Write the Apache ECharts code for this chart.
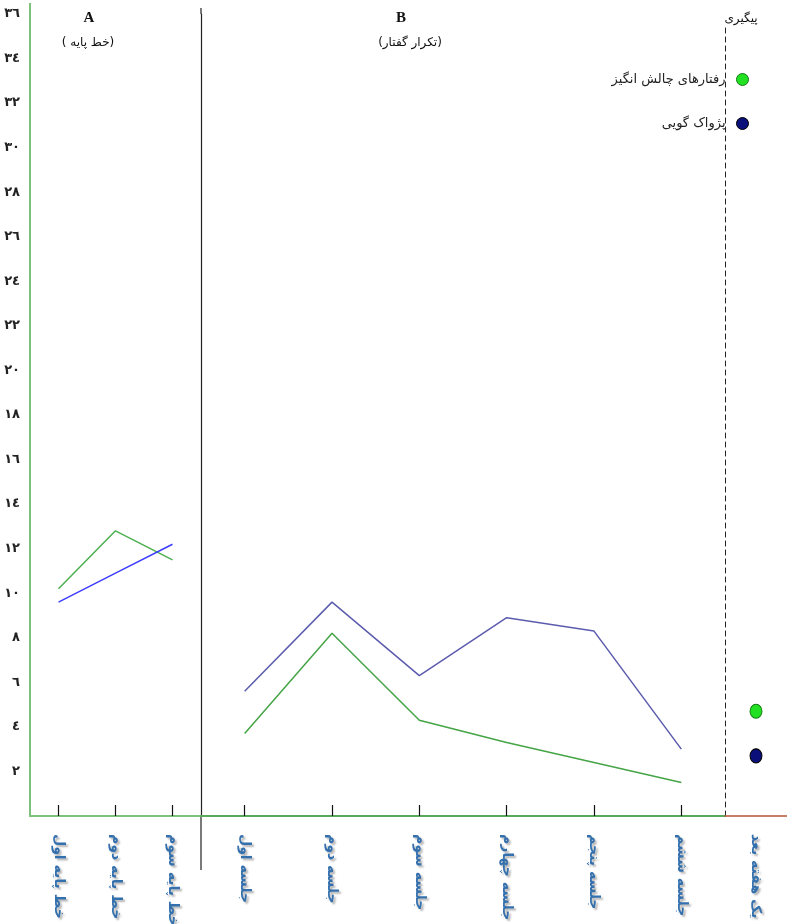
<!DOCTYPE html>
<html>
<head>
<meta charset="utf-8">
<script src="https://cdn.jsdelivr.net/npm/echarts@6/dist/echarts.min.js"></script>
<style>html,body{margin:0;padding:0;background:#fff}#c{width:787px;height:924px}</style>
</head>
<body>
<div id="c" dir="rtl"></div>
<script>
// ---- data ----
var baseCats = ['خط پایه اول', 'خط پایه دوم', 'خط پایه سوم'];
var interCats = ['جلسه اول', 'جلسه دوم', 'جلسه سوم', 'جلسه چهارم', 'جلسه پنجم', 'جلسه ششم'];
var followCats = ['یک هفته بعد'];
var seriesNames = ['رفتارهای چالش انگیز', 'پژواک گویی'];
var greenBase = [10.2, 12.8, 11.5];
var blueBase = [9.6, 10.9, 12.2];
var greenInter = [3.7, 8.2, 4.3, 3.3, 2.4, 1.5];
var blueInter = [5.6, 9.6, 6.3, 8.9, 8.3, 3.0];
var greenFollow = [4.7];
var blueFollow = [2.7];
var yTicks = [0, 2, 4, 6, 8, 10, 12, 14, 16, 18, 20, 22, 24, 26, 28, 30, 32, 34, 36];
var phaseLabels = ['A', '(خط پایه )', 'B', '(تکرار گفتار)', 'پیگیری'];

var arDigits = ['٠','١','٢','٣','٤','٥','٦','٧','٨','٩'];
function toAr(n) { return String(n).replace(/[0-9]/g, function (d) { return arDigits[+d]; }); }

var FONT = 'DejaVu Sans';
var chart = echarts.init(document.getElementById('c'));
var GREEN_AX = '#7cc27c';
var xLabel = {
  rotate: -90, margin: 18, fontSize: 14, color: '#3470ad', fontFamily: FONT,
  fontWeight: 'bold', textShadowColor: 'rgba(0,0,0,0.3)', textShadowBlur: 2,
  textShadowOffsetX: 2, textShadowOffsetY: 2
};
var xTick = { show: true, inside: true, length: 11, alignWithLabel: true, lineStyle: { color: '#111', width: 1.2 } };

function yAx(idx, show, lineStyle) {
  return {
    type: 'value', gridIndex: idx, min: yTicks[0], max: yTicks[yTicks.length - 1], interval: 2,
    splitLine: { show: false }, axisTick: { show: false },
    axisLine: { show: true, lineStyle: lineStyle },
    axisLabel: show ? {
      show: true, margin: 10, fontSize: 13, fontWeight: 'bold', color: '#222', fontFamily: FONT,
      formatter: function (v) { return yTicks.indexOf(v) > 0 ? toAr(v) : ''; }
    } : { show: false }
  };
}

chart.setOption({
  animation: false,
  grid: [
    { left: 30, right: 586, top: 14, bottom: 108, outerBoundsMode: 'none', containLabel: false },
    { left: 201, right: 62, top: 14, bottom: 108, outerBoundsMode: 'none', containLabel: false },
    { left: 725, right: 0, top: 24, bottom: 108, outerBoundsMode: 'none', containLabel: false }
  ],
  xAxis: [
    { type: 'category', gridIndex: 0, data: baseCats, axisLine: { lineStyle: { color: GREEN_AX, width: 2 } }, axisTick: xTick, axisLabel: xLabel },
    { type: 'category', gridIndex: 1, data: interCats, axisLine: { lineStyle: { color: '#5aaa5a', width: 2 } }, axisTick: xTick, axisLabel: xLabel },
    { type: 'category', gridIndex: 2, data: followCats, axisLine: { lineStyle: { color: '#b5533a', width: 1.5 } }, axisTick: { show: false }, axisLabel: xLabel }
  ],
  yAxis: [
    yAx(0, true, { color: GREEN_AX, width: 2 }),
    yAx(1, false, { color: '#222', width: 1.2 }),
    (function () {
      var a = yAx(2, false, { color: '#222', width: 1, type: [5, 4] });
      a.max = 35.55; // grid 2 starts lower; keep same value scale
      return a;
    })()
  ],
  legend: {
    orient: 'vertical', right: 33, top: 68, align: 'right', itemGap: 31,
    itemWidth: 12, itemHeight: 14, icon: 'circle',
    textStyle: { fontFamily: FONT, fontSize: 13, color: '#222', padding: [0, 6, 0, 0] },
    data: [
      { name: seriesNames[0], itemStyle: { color: '#22e022', borderColor: '#137a13', borderWidth: 1 } },
      { name: seriesNames[1], itemStyle: { color: '#0a0f7a', borderColor: '#000', borderWidth: 1 } }
    ]
  },
  graphic: [
    { type: 'line', shape: { x1: 201, y1: 816, x2: 201, y2: 870 }, style: { stroke: '#222', lineWidth: 1.2 } },
    { type: 'line', shape: { x1: 30, y1: 3, x2: 30, y2: 14 }, style: { stroke: GREEN_AX, lineWidth: 2 } },
    { type: 'line', shape: { x1: 201, y1: 8, x2: 201, y2: 14 }, style: { stroke: '#222', lineWidth: 1.2 } },
    { type: 'text', x: 89, y: 18, style: { text: phaseLabels[0], textAlign: 'center', textVerticalAlign: 'middle', font: 'bold 15px "Liberation Serif"', fill: '#111' } },
    { type: 'text', x: 88, y: 43, style: { text: phaseLabels[1], textAlign: 'center', textVerticalAlign: 'middle', font: '12px "DejaVu Sans"', fill: '#111' } },
    { type: 'text', x: 401, y: 18, style: { text: phaseLabels[2], textAlign: 'center', textVerticalAlign: 'middle', font: 'bold 15px "Liberation Serif"', fill: '#111' } },
    { type: 'text', x: 410, y: 43, style: { text: phaseLabels[3], textAlign: 'center', textVerticalAlign: 'middle', font: '12px "DejaVu Sans"', fill: '#111' } },
    { type: 'text', x: 741, y: 19, style: { text: phaseLabels[4], textAlign: 'center', textVerticalAlign: 'middle', font: '12px "DejaVu Sans"', fill: '#111' } }
  ],
  series: [
    { name: seriesNames[0], type: 'line', xAxisIndex: 0, yAxisIndex: 0, data: greenBase, symbol: 'none', lineStyle: { color: '#4caf50', width: 1.5 }, itemStyle: { color: '#4caf50' } },
    { name: seriesNames[1], type: 'line', xAxisIndex: 0, yAxisIndex: 0, data: blueBase, symbol: 'none', lineStyle: { color: '#3c3cff', width: 1.5 }, itemStyle: { color: '#3c3cff' } },
    { name: seriesNames[0], type: 'line', xAxisIndex: 1, yAxisIndex: 1, data: greenInter, symbol: 'none', lineStyle: { color: '#45a445', width: 1.5 }, itemStyle: { color: '#45a445' } },
    { name: seriesNames[1], type: 'line', xAxisIndex: 1, yAxisIndex: 1, data: blueInter, symbol: 'none', lineStyle: { color: '#5c5cae', width: 1.5 }, itemStyle: { color: '#5c5cae' } },
    { name: seriesNames[0], type: 'scatter', xAxisIndex: 2, yAxisIndex: 2, data: greenFollow, symbol: 'circle', symbolSize: [12, 14], itemStyle: { color: '#22e022', borderColor: '#137a13', borderWidth: 1, opacity: 1 } },
    { name: seriesNames[1], type: 'scatter', xAxisIndex: 2, yAxisIndex: 2, data: blueFollow, symbol: 'circle', symbolSize: [12, 14], itemStyle: { color: '#0a0f7a', borderColor: '#000', borderWidth: 1, opacity: 1 } }
  ]
});
</script>
</body>
</html>
